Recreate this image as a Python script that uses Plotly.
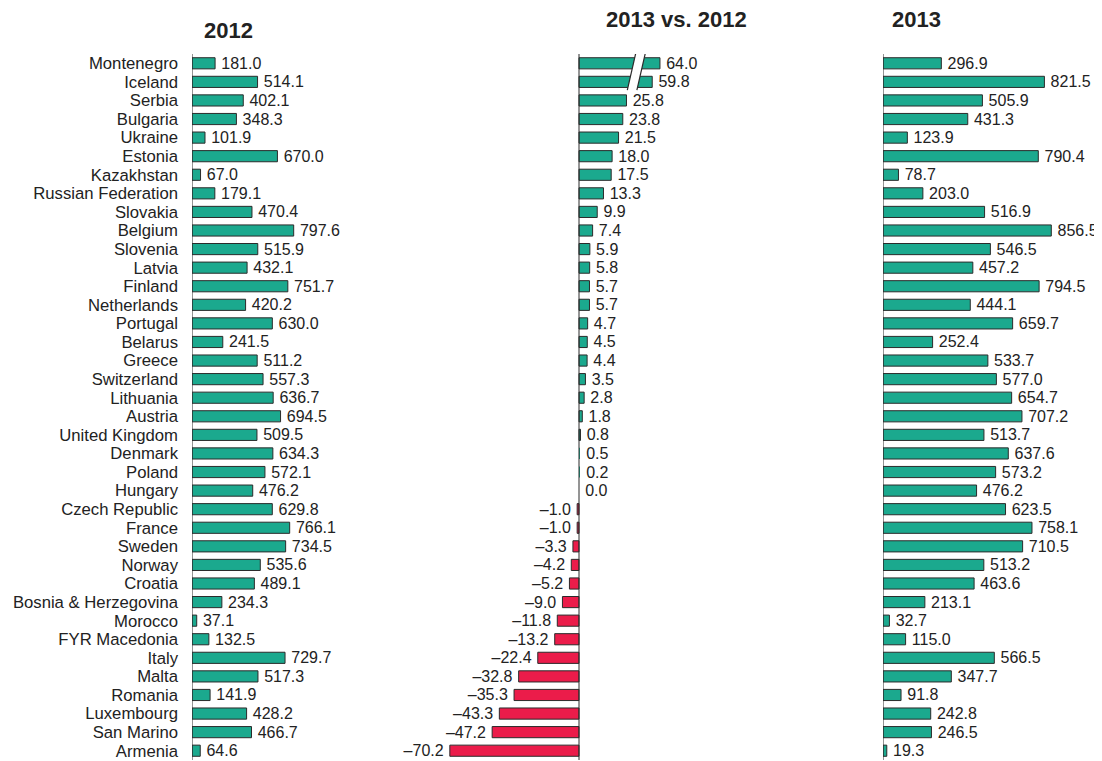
import plotly.graph_objects as go

countries = ["Montenegro", "Iceland", "Serbia", "Bulgaria", "Ukraine", "Estonia", "Kazakhstan",
             "Russian Federation", "Slovakia", "Belgium", "Slovenia", "Latvia", "Finland",
             "Netherlands", "Portugal", "Belarus", "Greece", "Switzerland", "Lithuania", "Austria",
             "United Kingdom", "Denmark", "Poland", "Hungary", "Czech Republic", "France", "Sweden",
             "Norway", "Croatia", "Bosnia & Herzegovina", "Morocco", "FYR Macedonia", "Italy",
             "Malta", "Romania", "Luxembourg", "San Marino", "Armenia"]

values_2012 = [181.0, 514.1, 402.1, 348.3, 101.9, 670.0, 67.0, 179.1, 470.4, 797.6, 515.9, 432.1,
               751.7, 420.2, 630.0, 241.5, 511.2, 557.3, 636.7, 694.5, 509.5, 634.3, 572.1, 476.2,
               629.8, 766.1, 734.5, 535.6, 489.1, 234.3, 37.1, 132.5, 729.7, 517.3, 141.9, 428.2,
               466.7, 64.6]

change_2013_vs_2012 = [64.0, 59.8, 25.8, 23.8, 21.5, 18.0, 17.5, 13.3, 9.9, 7.4, 5.9, 5.8, 5.7, 5.7,
                       4.7, 4.5, 4.4, 3.5, 2.8, 1.8, 0.8, 0.5, 0.2, 0.0, -1.0, -1.0, -3.3, -4.2,
                       -5.2, -9.0, -11.8, -13.2, -22.4, -32.8, -35.3, -43.3, -47.2, -70.2]

values_2013 = [296.9, 821.5, 505.9, 431.3, 123.9, 790.4, 78.7, 203.0, 516.9, 856.5, 546.5, 457.2,
               794.5, 444.1, 659.7, 252.4, 533.7, 577.0, 654.7, 707.2, 513.7, 637.6, 573.2, 476.2,
               623.5, 758.1, 710.5, 513.2, 463.6, 213.1, 32.7, 115.0, 566.5, 347.7, 91.8, 242.8,
               246.5, 19.3]

panel_titles = ["2012", "2013 vs. 2012", "2013"]

# ---- style / layout constants (page pixel coordinates) ----
PAGE_W, PAGE_H = 1102, 761
OFF = 8                      # page body margin around the figure
W, H = PAGE_W - OFF, PAGE_H - OFF
PLOT_TOP, PLOT_BOTTOM = 54, 760   # page y of the row band
M_T = PLOT_TOP - OFF
M_B = H - (PLOT_BOTTOM - OFF)
TEAL = "#1BA98E"
RED = "#EB1C4A"
OUTLINE = "#2b2b2b"
TXT = "#222222"
FONT = "Liberation Sans, Arial, sans-serif"
FS = 16
FS_CAT = 16.7
PAD = "\u2009"

# axis break for the middle panel (long bars are shortened)
BREAK_THRESHOLD = 30.0
BREAK_SHIFT = 20.0
BREAK_AT = 31.5


def fmt(v):
    s = f"{abs(v):.1f}"
    return ("\u2013" + s + PAD) if v < 0 else (PAD + s)


def px_x(p):
    return (p - OFF) / W


def px_y(p):
    return 1 - (p - PLOT_TOP) / (PLOT_BOTTOM - PLOT_TOP)


# panel geometry in page pixels: (zero px, px per unit, left px, right px)
p1 = (192, 0.1275, 192, 392)
p2 = (579, 1.84, 430, 720)
p3 = (883, 0.1965, 883, 1102)


def rng(p):
    zero, k, left, right = p
    return [(left - zero) / k, (right - zero) / k]


def dom(p):
    return [px_x(p[2]), min(1.0, px_x(p[3]))]


fig = go.Figure()

common = dict(orientation="h", y=countries, width=0.6, textposition="outside",
              constraintext="none", cliponaxis=False,
              textfont=dict(family=FONT, size=FS, color=TXT), showlegend=False,
              hoverinfo="skip")

fig.add_trace(go.Bar(x=values_2012, text=[fmt(v) for v in values_2012],
                     marker=dict(color=TEAL, line=dict(color=OUTLINE, width=1)),
                     xaxis="x", yaxis="y", **common))

display_change = [v - BREAK_SHIFT if v > BREAK_THRESHOLD else v for v in change_2013_vs_2012]
fig.add_trace(go.Bar(x=display_change, text=[fmt(v) for v in change_2013_vs_2012],
                     marker=dict(color=[TEAL if v >= 0 else RED for v in change_2013_vs_2012],
                                 line=dict(color=OUTLINE,
                                           width=[1 if abs(v) >= 0.75 else 0 for v in change_2013_vs_2012])),
                     xaxis="x2", yaxis="y", **common))

fig.add_trace(go.Bar(x=values_2013, text=[fmt(v) for v in values_2013],
                     marker=dict(color=TEAL, line=dict(color=OUTLINE, width=1)),
                     xaxis="x3", yaxis="y", **common))

xa = dict(showgrid=False, zeroline=False, showticklabels=False, ticks="", showline=False,
          fixedrange=True)
fig.update_layout(
    width=W, height=H,
    margin=dict(l=0, r=0, t=M_T, b=M_B, pad=0),
    paper_bgcolor="white", plot_bgcolor="white",
    font=dict(family=FONT, size=FS, color=TXT),
    xaxis=dict(domain=dom(p1), range=rng(p1), anchor="y", **xa),
    xaxis2=dict(domain=dom(p2), range=rng(p2), anchor="y", **xa),
    xaxis3=dict(domain=dom(p3), range=rng(p3), anchor="y", **xa),
    yaxis=dict(type="category", categoryorder="array", categoryarray=countries,
               tickmode="array", tickvals=countries, ticktext=countries,
               range=[len(countries) - 0.5, -0.5], anchor="x", showgrid=False,
               zeroline=False, showline=False, ticks="", ticklabelstandoff=13,
               tickfont=dict(family=FONT, size=FS_CAT, color=TXT)),
)

# vertical baseline of each panel
for ref in ["x", "x2", "x3"]:
    fig.add_shape(type="line", xref=ref, yref="y domain", x0=0, x1=0, y0=0, y1=1,
                  line=dict(color=OUTLINE, width=1), layer="above")

# break marks across the two shortened bars
idx_long = [i for i, v in enumerate(change_2013_vs_2012) if v > BREAK_THRESHOLD]
y_top = min(idx_long) - 0.85
y_bot = max(idx_long) + 0.45
mid = (y_top + y_bot) / 2
slant = 2.3
half_gap = 2.6


def bx(y, off):
    return BREAK_AT + off - (y - mid) * slant


fig.add_shape(type="path", xref="x2", yref="y",
              path=(f"M {bx(y_top, -half_gap)},{y_top} L {bx(y_top, half_gap)},{y_top} "
                    f"L {bx(y_bot, half_gap)},{y_bot} L {bx(y_bot, -half_gap)},{y_bot} Z"),
              fillcolor="white", line=dict(width=0), layer="above")
for off in (-half_gap, half_gap):
    fig.add_shape(type="line", xref="x2", yref="y",
                  x0=bx(y_top, off), y0=y_top, x1=bx(y_bot, off), y1=y_bot,
                  line=dict(color=OUTLINE, width=1.2), layer="above")

# panel titles (page pixel centres)
title_pos = [(228, 31), (676, 20), (916, 20)]
for t, (cx, cy) in zip(panel_titles, title_pos):
    fig.add_annotation(text=f"<b>{t}</b>", xref="paper", yref="paper",
                       x=px_x(cx), y=px_y(cy), xanchor="center", yanchor="middle",
                       showarrow=False, font=dict(family=FONT, size=22, color=TXT))

fig.write_html("out.html")
